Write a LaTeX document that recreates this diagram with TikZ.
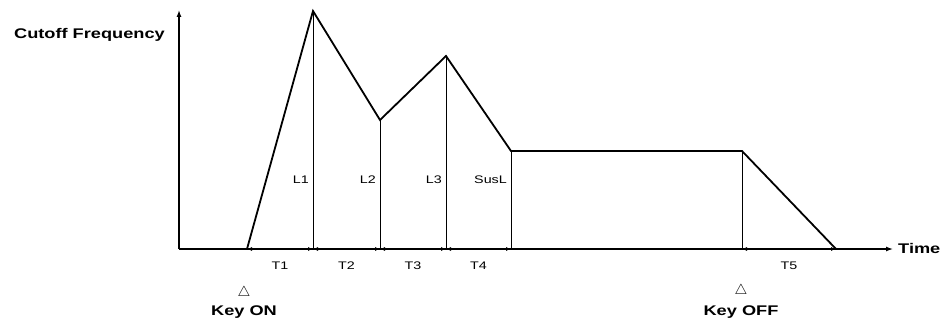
\documentclass[tikz,border=0pt]{standalone}
\usepackage{fontspec}
\setmainfont{Liberation Sans}[FakeStretch=1.3]
\usetikzlibrary{arrows.meta,positioning}

\begin{document}
\begin{tikzpicture}[
x=1pt,y=-1pt,
axis/.style={line width=1.3pt,-{Latex[length=7pt,width=5pt]}},
env/.style={line width=1.8pt,line join=miter},
guide/.style={line width=0.6pt},
span/.style={line width=0.9pt,
{Latex[length=5pt,width=4pt]}-{Latex[length=5pt,width=4pt]}},
lbl/.style={font=\fontsize{11}{12}\selectfont,inner sep=1pt},
big/.style={font=\fontsize{14}{16}\selectfont\bfseries,inner sep=1pt,
align=center},
tri/.style={font=\fontsize{14}{14}\selectfont,inner sep=0pt}
]
\useasboundingbox (0,0) rectangle (950,321);

% axes
\coordinate (orig) at (179,249);
\coordinate (ytop) at (179,10);
\coordinate (xend) at (893,249);
\draw[axis] (orig) -- (ytop);
\draw[axis] (orig) -- (xend);
\node[big,anchor=east] (ylbl) at (166,35) {Cutoff Frequency};
\node[big,anchor=west] (tlbl) at (897,248) {Time};

% envelope points
\coordinate (on) at (247,249);
\coordinate (l1) at (313,11);
\coordinate (l2) at (380,120);
\coordinate (l3) at (446,56);
\coordinate (sus) at (511,151);
\coordinate (off) at (742,151);
\coordinate (end) at (836,249);
\coordinate (f1) at (313,249);
\coordinate (f2) at (380,249);
\coordinate (f3) at (446,249);
\coordinate (f4) at (511,249);
\coordinate (f5) at (742,249);

\foreach \a/\b in {l1/f1,l2/f2,l3/f3,sus/f4,off/f5}
\draw[guide] (\a) -- (\b);
\draw[env] (on) -- (l1) -- (l2) -- (l3) -- (sus) -- (off) -- (end);

% levels
\foreach \x/\t in {310/L1,377/L2,443/L3,508/SusL}
\node[lbl,anchor=east] (n\t) at (\x,180) {\t};

% times
\foreach \a/\b/\t in {on/f1/T1,f1/f2/T2,f2/f3/T3,f3/f4/T4,f5/end/T5}
\draw[span] (\a) -- node[lbl,below=11pt] (n\t) {\t} (\b);

% key events
\node[tri] (tron) at (244,293) {$\triangle$};
\node[big,below=5pt of tron] (keyon) {Key ON};
\node[tri] (troff) at (741,291) {$\triangle$};
\node[big,below=7pt of troff] (keyoff) {Key OFF};
\end{tikzpicture}
\end{document}
